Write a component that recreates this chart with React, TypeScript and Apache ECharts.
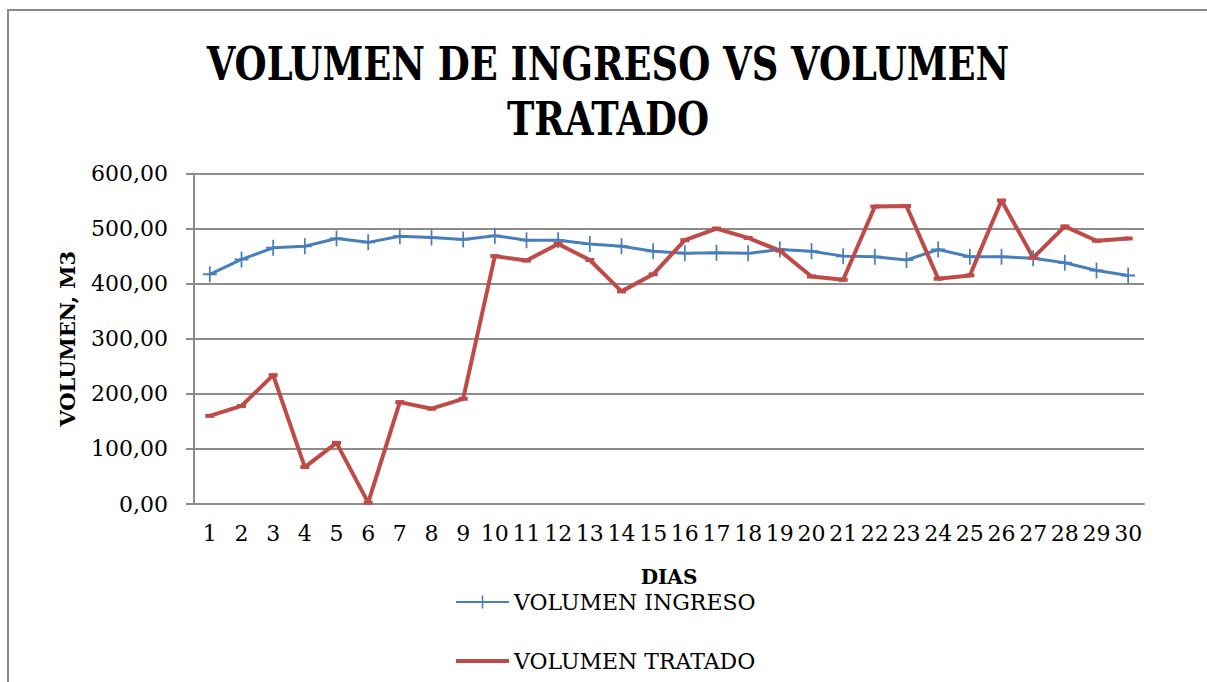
import React, { useEffect, useRef } from "react";
import * as echarts from "echarts";

const days = Array.from({ length: 30 }, (_, i) => String(i + 1));
const volumenIngreso = [
  417, 444, 465, 468, 482, 475, 486, 484, 480, 487,
  479, 479, 472, 468, 459, 455, 456, 455, 462, 459,
  450, 449, 443, 462, 449, 449, 446, 438, 424, 415,
];
const volumenTratado = [
  160, 178, 234, 67, 111, 2.5, 185, 173, 191, 450,
  442, 472, 443, 386, 417, 479, 500, 483, 460, 413,
  407, 540, 541, 409, 415, 551, 447, 504, 478, 482,
];
const seriesNames = ["VOLUMEN INGRESO", "VOLUMEN TRATADO"];
const titleLines = ["VOLUMEN DE INGRESO VS VOLUMEN", "TRATADO"];

const BLUE = "#4A7EBB";
const RED = "#BE4B48";
const GRID = "#8C8C8C";
const FONT = '"DejaVu Serif", "Liberation Serif", serif';
const TITLE_FONT = 'bold 46px "DejaVu Serif Condensed", "DejaVu Serif", serif';

export default function App() {
  const ref = useRef<HTMLDivElement>(null);
  useEffect(() => {
    if (!ref.current) return;
    const chart = echarts.init(ref.current, null, { renderer: "svg" });
    chart.setOption({
      animation: false,
      backgroundColor: "#ffffff",
      graphic: [
        {
          type: "rect",
          shape: { x: 8, y: 10, width: 1260, height: 720 },
          style: { fill: "none", stroke: "#888888", lineWidth: 2 },
          silent: true,
          z: -1,
        },
        {
          type: "text",
          x: 608,
          y: 64,
          scaleX: 0.89,
          style: {
            text: titleLines[0],
            font: TITLE_FONT,
            fill: "#000",
            textAlign: "center",
            textVerticalAlign: "middle",
          },
        },
        {
          type: "text",
          x: 608,
          y: 119,
          scaleX: 0.89,
          style: {
            text: titleLines[1],
            font: TITLE_FONT,
            fill: "#000",
            textAlign: "center",
            textVerticalAlign: "middle",
          },
        },
      ],
      legend: {
        orient: "vertical",
        left: 455,
        top: 591,
        height: 110,
        padding: 0,
        itemWidth: 53,
        itemHeight: 16,
        itemGap: 37,
        textStyle: { fontFamily: FONT, fontSize: 22, color: "#000" },
        data: [
          { name: seriesNames[0] },
          {
            name: seriesNames[1],
            icon:
              "path://M0,0 L0.01,0 L0.01,0.01 Z M0,6 L53,6 L53,10 L0,10 Z M0,16 L0.01,16 L0.01,15.99 Z",
          },
        ],
      },
      grid: { left: 194, right: 63, top: 173.5, bottom: 178, containLabel: false },
      xAxis: {
        type: "category",
        data: days,
        boundaryGap: true,
        name: "DIAS",
        nameLocation: "middle",
        nameGap: 63,
        nameTextStyle: { fontFamily: FONT, fontWeight: "bold", fontSize: 20, color: "#000" },
        axisLine: { lineStyle: { color: GRID, width: 2 } },
        axisTick: { show: false },
        axisLabel: { fontFamily: FONT, fontSize: 22, color: "#000", margin: 18, interval: 0 },
      },
      yAxis: {
        type: "value",
        min: 0,
        max: 600,
        interval: 100,
        name: "VOLUMEN, M3",
        nameLocation: "middle",
        nameRotate: 90,
        nameGap: 116,
        nameTextStyle: { fontFamily: FONT, fontWeight: "bold", fontSize: 21, color: "#000" },
        axisLine: { show: true, lineStyle: { color: GRID, width: 2 } },
        axisTick: { show: true, length: 8, lineStyle: { color: GRID, width: 2 } },
        splitLine: { lineStyle: { color: GRID, width: 2 } },
        axisLabel: {
          fontFamily: FONT,
          fontSize: 22,
          color: "#000",
          margin: 26,
          formatter: (v: number) => v.toFixed(2).replace(".", ","),
        },
      },
      series: [
        {
          name: seriesNames[0],
          type: "line",
          data: volumenIngreso,
          symbol: "path://M7,0 L9,0 L9,16 L7,16 Z M0,7 L16,7 L16,9 L0,9 Z",
          symbolSize: [14, 16],
          showAllSymbol: true,
          lineStyle: { color: BLUE, width: 3 },
          itemStyle: { color: BLUE },
        },
        {
          name: seriesNames[1],
          type: "line",
          data: volumenTratado,
          symbol: "path://M0,0 L10,0 L10,3 L0,3 Z",
          symbolSize: [9, 4],
          showAllSymbol: true,
          lineStyle: { color: RED, width: 4 },
          itemStyle: { color: RED },
        },
      ],
    });
    return () => chart.dispose();
  }, []);
  return (
    <div
      ref={ref}
      style={{ position: "absolute", left: 0, top: 0, width: 1207, height: 682 }}
    />
  );
}
